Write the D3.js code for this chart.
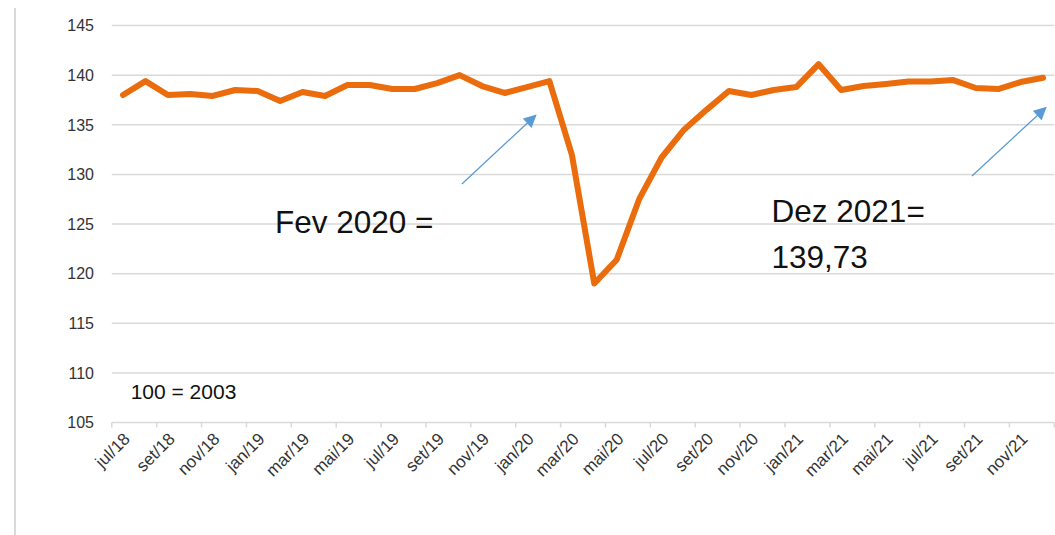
<!DOCTYPE html>
<html>
<head>
<meta charset="utf-8">
<script src="https://cdn.jsdelivr.net/npm/d3@7"></script>
<style>
  body { margin: 0; background: #fff; }
  svg { display: block; font-family: "Liberation Sans", Arial, sans-serif; }
</style>
</head>
<body>
<script>
// data
const months = ['jul/18','ago/18','set/18','out/18','nov/18','dez/18',
  'jan/19','fev/19','mar/19','abr/19','mai/19','jun/19','jul/19','ago/19','set/19','out/19','nov/19','dez/19',
  'jan/20','fev/20','mar/20','abr/20','mai/20','jun/20','jul/20','ago/20','set/20','out/20','nov/20','dez/20',
  'jan/21','fev/21','mar/21','abr/21','mai/21','jun/21','jul/21','ago/21','set/21','out/21','nov/21','dez/21'];
const values = [138.0,139.4,138.0,138.1,137.9,138.5,
  138.4,137.4,138.3,137.9,139.0,139.0,138.6,138.6,139.2,140.0,138.9,138.2,
  138.8,139.4,132.0,119.0,121.4,127.5,131.7,134.5,136.5,138.4,138.0,138.5,
  138.8,141.1,138.5,138.9,139.1,139.35,139.35,139.5,138.7,138.6,139.3,139.73];
const yTicks = [105,110,115,120,125,130,135,140,145];
// annotations in (month index, value) units
const notes = [
  {i: 6.77, v: 124.1, text: 'Fev 2020 ='},
  {i: 28.9, v: 125.23, text: 'Dez 2021='},
  {i: 28.9, v: 120.54, text: '139,73'}
];
const baseNote = {i: 0.34, v: 107.34, text: '100 = 2003'};
const arrows = [
  {from: [15.1, 129.03], to: [18.39, 135.95]},
  {from: [37.83, 129.84], to: [41.12, 136.72]}
];

let width = 1055, height = 535;
let svg = d3.select('body').append('svg').attr('width', width).attr('height', height);

// scales
let x = d3.scaleBand().domain(months).range([111.8, 1054.3]).padding(0);
let step = x.step();
let xi = d3.scaleLinear().domain([0, months.length - 1]).range([111.8 + step / 2, 1054.3 - step / 2]);
let y = d3.scaleLinear().domain([105, 145]).range([422.5, 25.5]);

// left frame line
svg.append('line').attr('x1', 15).attr('x2', 15).attr('y1', 8).attr('y2', 535)
  .attr('stroke', '#d9d9d9').attr('stroke-width', 2);

// gridlines
svg.append('g').selectAll('line').data(yTicks).join('line')
  .attr('x1', 111.8).attr('x2', 1054.3)
  .attr('y1', d => y(d)).attr('y2', d => y(d))
  .attr('stroke', '#d9d9d9').attr('stroke-width', 1.5);

// y labels
svg.append('g').selectAll('text').data(yTicks).join('text')
  .attr('x', 94).attr('y', d => y(d)).attr('dy', '0.36em')
  .attr('text-anchor', 'end').attr('font-size', 16).attr('fill', '#333')
  .text(d => d);

// x axis ticks every 2 months at category boundaries
let tickIdx = d3.range(0, months.length + 1, 2);
svg.append('g').selectAll('line').data(tickIdx).join('line')
  .attr('x1', i => 111.8 + i * step).attr('x2', i => 111.8 + i * step)
  .attr('y1', y(105)).attr('y2', y(105) + 5)
  .attr('stroke', '#d9d9d9').attr('stroke-width', 1.5);

// x labels
let labelMonths = months.filter((m, i) => i % 2 === 0);
svg.append('g').selectAll('text').data(labelMonths).join('text')
  .attr('transform', d => `translate(${x(d) + step / 2 + 8},440) rotate(-45)`)
  .attr('text-anchor', 'end').attr('font-size', 17).attr('fill', '#333')
  .text(d => d);

// line
let line = d3.line().x((d, i) => xi(i)).y(d => y(d));
svg.append('path').datum(values).attr('d', line)
  .attr('fill', 'none').attr('stroke', '#eb6c0d').attr('stroke-width', 6)
  .attr('stroke-linejoin', 'round').attr('stroke-linecap', 'round');

// arrows
svg.append('defs').append('marker').attr('id', 'arr')
  .attr('viewBox', '0 0 10 10').attr('refX', 9).attr('refY', 5)
  .attr('markerWidth', 14).attr('markerHeight', 13).attr('markerUnits', 'userSpaceOnUse')
  .attr('orient', 'auto')
  .append('path').attr('d', 'M0,0L10,5L0,10z').attr('fill', '#5b9bd5');
svg.append('g').selectAll('line').data(arrows).join('line')
  .attr('x1', d => xi(d.from[0])).attr('y1', d => y(d.from[1]))
  .attr('x2', d => xi(d.to[0])).attr('y2', d => y(d.to[1]))
  .attr('stroke', '#5b9bd5').attr('stroke-width', 1.3)
  .attr('marker-end', 'url(#arr)');

// annotation text
svg.append('g').selectAll('text').data(notes).join('text')
  .attr('x', d => xi(d.i)).attr('y', d => y(d.v))
  .attr('font-size', 31.5).attr('fill', '#111')
  .text(d => d.text);
svg.append('text').attr('x', xi(baseNote.i)).attr('y', y(baseNote.v))
  .attr('font-size', 21).attr('fill', '#111').text(baseNote.text);
</script>
</body>
</html>
